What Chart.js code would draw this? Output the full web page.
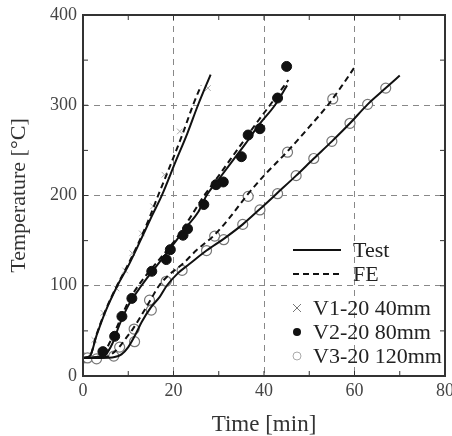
<!DOCTYPE html>
<html>
<head>
<meta charset="utf-8">
<script src="https://cdn.jsdelivr.net/npm/chart.js@4/dist/chart.umd.min.js"></script>
<style>
  html, body { margin: 0; padding: 0; background: #fff; }
  #wrap { width: 452px; height: 436px; }
</style>
</head>
<body>
<div id="wrap"><canvas id="myChart" width="452" height="436"></canvas></div>
<script>
// axis ticks
var xTicks = [0, 20, 40, 60, 80];
var yTicks = [0, 100, 200, 300, 400];

// V1-20 40mm
var v1TestTime = [0, 1.5, 3, 5, 7.6, 10, 12.5, 15, 17.5, 20.5, 23, 25.4, 28.2];
var v1TestTemp = [20, 22, 45, 72, 100, 122, 148, 175, 201, 238, 268, 300, 334];
var v1FeTime = [0, 1.5, 3, 5, 7.5, 10, 12.5, 14.5, 16.6, 19.5, 22, 24.3, 26.1];
var v1FeTemp = [20, 22, 46, 73, 100, 124, 150, 173, 200, 236, 268, 300, 322];
var v1MarkTime = [2.5, 4.5, 7.4, 9.3, 10.9, 13, 15.5, 18, 21.4, 27.6];
var v1MarkTemp = [40, 70, 97, 117, 136, 158, 188, 223, 271, 319];

// V2-20 80mm
var v2TestTime = [0, 3, 5, 6.5, 8, 10, 12.9, 15, 18, 20, 23, 25.5, 27.3, 30, 33, 36, 39, 42.4, 45.1];
var v2TestTemp = [20, 21, 24, 36, 56, 78, 100, 114, 133, 146, 166, 182, 200, 218, 238, 258, 279, 300, 322];
var v2FeTime = [0, 3, 4.5, 6, 8, 10, 12.2, 15, 18, 21, 24, 26.5, 29, 32, 35, 38, 41.3, 45.4];
var v2FeTemp = [20, 21, 25, 38, 60, 82, 100, 118, 136, 155, 178, 198, 215, 236, 257, 278, 300, 328];
var v2MarkTime = [4.4, 7, 8.6, 10.8, 15.2, 18.4, 19.3, 22.1, 23.1, 26.7, 29.4, 31, 35, 36.5, 39.1, 43, 45];
var v2MarkTemp = [27, 44, 66, 86, 116, 129, 140, 156, 163, 190, 212, 215, 243, 267, 274, 308, 343];

// V3-20 120mm
var v3TestTime = [0, 4, 7, 8.5, 10, 11.5, 13, 15, 17, 18.5, 21, 23.5, 27.3, 31.1, 35.3, 39.1, 43, 47.1, 51, 55, 59, 62.9, 66.9, 70];
var v3TestTemp = [20, 20, 21, 24, 32, 45, 60, 76, 88, 100, 114, 124, 139, 152, 168, 185, 203, 222, 241, 260, 280, 301, 319, 333];
var v3FeTime = [0, 3, 5, 6.5, 8, 9.5, 11, 13, 15, 16.8, 19, 22, 25, 29, 32.5, 36.2, 40, 45.2, 50, 54.1, 57, 60];
var v3FeTemp = [20, 20, 21, 25, 32, 42, 52, 68, 85, 100, 112, 124, 139, 156, 176, 200, 222, 249, 276, 300, 320, 342];
var v3MarkTime = [0, 1, 3, 6.8, 8.1, 11.3, 11.4, 14.7, 15.1, 18.4, 21.9, 27.3, 29.1, 31.1, 35.3, 36.5, 39.1, 43, 45.2, 47.1, 51, 55, 55.2, 59, 62.9, 66.9];
var v3MarkTemp = [20, 20, 19, 22, 32, 52, 38, 84, 73, 105, 117, 139, 155, 151, 168, 199, 184, 202, 248, 222, 241, 260, 307, 280, 301, 319];

var legendLines = ['Test', 'FE'];
var legendMarks = ['V1-20 40mm', 'V2-20 80mm', 'V3-20 120mm'];

function pts(xs, ys) {
    return xs.map(function(x, i) { return {x: x, y: ys[i]}; });
}

function lineSet(xs, ys, dashed) {
    return {
        data: pts(xs, ys),
        showLine: true,
        borderColor: '#111',
        borderWidth: 2,
        borderDash: dashed ? [6, 4] : [],
        pointRadius: 0,
        cubicInterpolationMode: 'monotone',
        fill: false
    };
}

function markSet(xs, ys, style, fill, border, r, bw) {
    return {
        data: pts(xs, ys),
        showLine: false,
        pointStyle: style,
        pointRadius: r,
        pointBackgroundColor: fill,
        pointBorderColor: border,
        pointBorderWidth: bw
    };
}

var serif = "'Liberation Serif', 'Times New Roman', serif";

// frame, minor ticks and legend
var decorPlugin = {
    id: 'decor',
    afterDraw: function(chart) {
        var ctx = chart.ctx;
        var a = chart.chartArea;
        var xs = chart.scales.x, ys = chart.scales.y;
        ctx.save();
        ctx.strokeStyle = '#333';
        ctx.lineWidth = 1;
        var t, p;
        for (t = 10; t < 80; t += 10) {
            p = xs.getPixelForValue(t);
            ctx.beginPath();
            ctx.moveTo(p, a.bottom); ctx.lineTo(p, a.bottom - 5);
            ctx.moveTo(p, a.top); ctx.lineTo(p, a.top + 5);
            ctx.stroke();
        }
        for (t = 50; t < 400; t += 50) {
            p = ys.getPixelForValue(t);
            ctx.beginPath();
            ctx.moveTo(a.left, p); ctx.lineTo(a.left + 5, p);
            ctx.moveTo(a.right, p); ctx.lineTo(a.right - 5, p);
            ctx.stroke();
        }
        ctx.lineWidth = 2;
        ctx.strokeRect(a.left, a.top, a.right - a.left, a.bottom - a.top);

        // legend
        ctx.font = '22px ' + serif;
        ctx.fillStyle = '#222';
        ctx.textBaseline = 'middle';
        ctx.textAlign = 'left';
        var lx = 293, ly = 250;
        ctx.strokeStyle = '#111';
        ctx.lineWidth = 2;
        legendLines.forEach(function(lbl, i) {
            var y = ly + i * 24;
            ctx.setLineDash(i === 1 ? [6, 4] : []);
            ctx.beginPath();
            ctx.moveTo(lx, y); ctx.lineTo(lx + 48, y);
            ctx.stroke();
            ctx.setLineDash([]);
            ctx.fillText(lbl, 353, y + 1);
        });
        var my = 308;
        legendMarks.forEach(function(lbl, i) {
            var y = my + i * 24;
            var cx = 297;
            ctx.lineWidth = 1;
            if (i === 0) {
                ctx.strokeStyle = '#777';
                ctx.beginPath();
                ctx.moveTo(cx - 4, y - 4); ctx.lineTo(cx + 4, y + 4);
                ctx.moveTo(cx + 4, y - 4); ctx.lineTo(cx - 4, y + 4);
                ctx.stroke();
            } else if (i === 1) {
                ctx.fillStyle = '#111';
                ctx.beginPath(); ctx.arc(cx, y, 4, 0, Math.PI * 2); ctx.fill();
            } else {
                ctx.strokeStyle = '#aaa';
                ctx.beginPath(); ctx.arc(cx, y, 4, 0, Math.PI * 2); ctx.stroke();
            }
            ctx.fillStyle = '#222';
            ctx.fillText(lbl, 313, y + 1);
        });
        ctx.restore();
    }
};

var myChart = new Chart(document.getElementById('myChart').getContext('2d'), {
    type: 'scatter',
    data: {
        datasets: [
            lineSet(v1TestTime, v1TestTemp, false),
            lineSet(v1FeTime, v1FeTemp, true),
            lineSet(v2TestTime, v2TestTemp, false),
            lineSet(v2FeTime, v2FeTemp, true),
            lineSet(v3TestTime, v3TestTemp, false),
            lineSet(v3FeTime, v3FeTemp, true),
            markSet(v1MarkTime, v1MarkTemp, 'crossRot', '#aaa', '#aaa', 4, 1),
            markSet(v2MarkTime, v2MarkTemp, 'circle', '#111', '#111', 5, 1),
            markSet(v3MarkTime, v3MarkTemp, 'circle', '#fff', '#777', 5, 1.2)
        ]
    },
    options: {
        responsive: false,
        animation: false,
        layout: { padding: { top: 15, right: 7, left: 0, bottom: 0 }, autoPadding: false },
        plugins: { legend: { display: false }, tooltip: { enabled: false } },
        scales: {
            x: {
                type: 'linear', min: 0, max: 80,
                afterFit: function(s) { s.height = 60; s.paddingLeft = 0; s.paddingRight = 0; },
                afterBuildTicks: function(s) { s.ticks = xTicks.map(function(v) { return {value: v}; }); },
                ticks: { font: { family: serif, size: 18 }, color: '#444', padding: 4, maxRotation: 0 },
                grid: {
                    drawTicks: false,
                    color: function(c) { return (c.tick && c.tick.value > 0 && c.tick.value < 80) ? '#888' : 'rgba(0,0,0,0)'; },
                    lineWidth: 1
                },
                border: { display: false, dash: [6, 5] },
                title: { display: true, text: 'Time [min]', font: { family: serif, size: 23 }, color: '#333', padding: { top: 0, bottom: -3 } }
            },
            y: {
                type: 'linear', min: 0, max: 400,
                afterFit: function(s) { s.width = 83; s.paddingTop = 0; s.paddingBottom = 0; },
                afterBuildTicks: function(s) { s.ticks = yTicks.map(function(v) { return {value: v}; }); },
                ticks: { font: { family: serif, size: 18 }, color: '#444', padding: 6 },
                grid: {
                    drawTicks: false,
                    color: function(c) { return (c.tick && c.tick.value > 0 && c.tick.value < 400) ? '#888' : 'rgba(0,0,0,0)'; },
                    lineWidth: 1
                },
                border: { display: false, dash: [6, 5] },
                title: { display: true, text: 'Temperature [°C]', font: { family: serif, size: 22 }, color: '#333', padding: { top: 6, bottom: 0 } }
            }
        }
    },
    plugins: [decorPlugin]
});
</script>
</body>
</html>
